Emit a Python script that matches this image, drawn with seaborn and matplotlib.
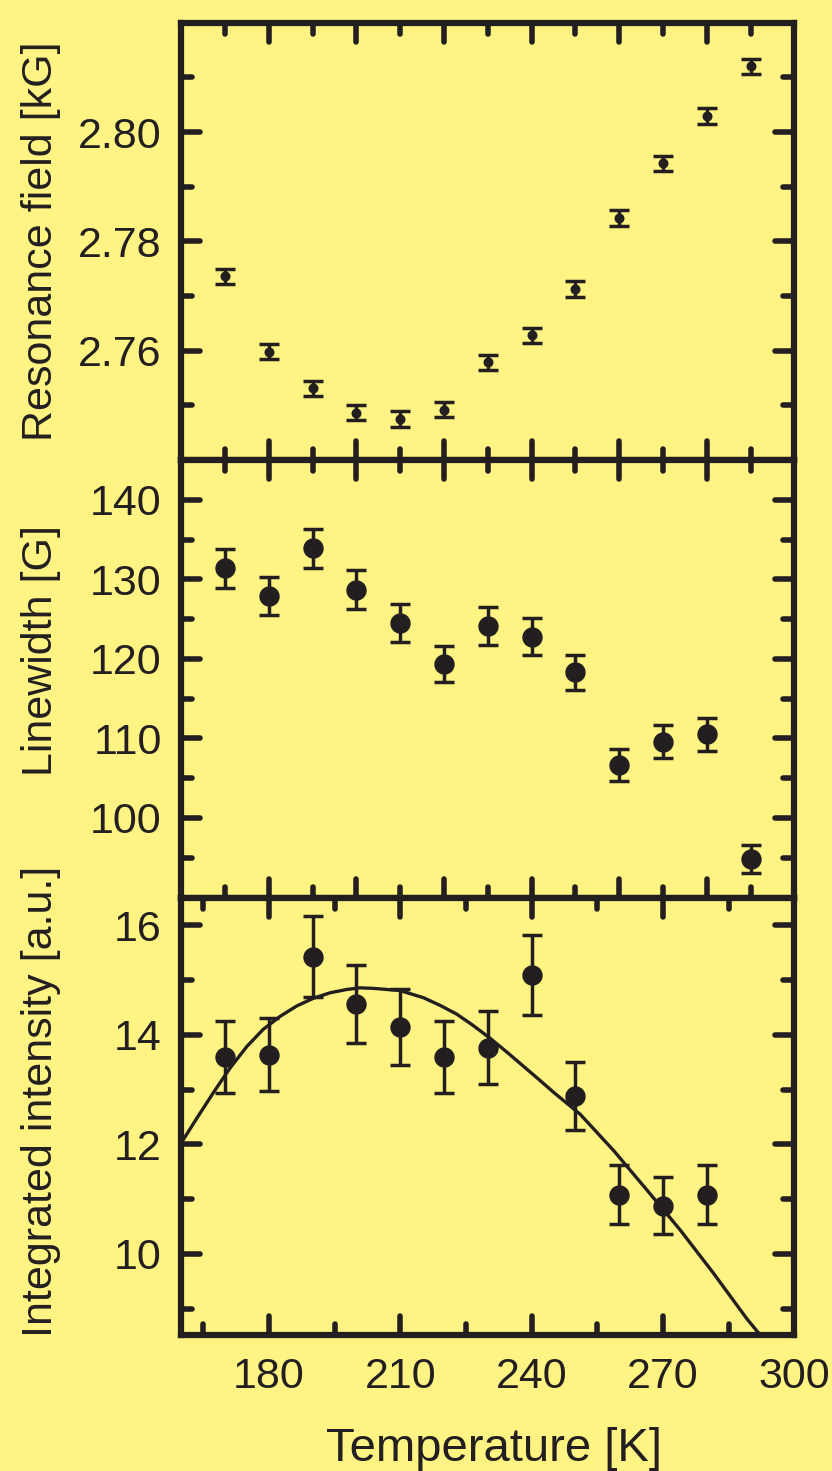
import matplotlib
matplotlib.use('Agg')
import matplotlib.pyplot as plt
import seaborn as sns
import pandas as pd
from matplotlib.markers import MarkerStyle
from matplotlib.ticker import FixedLocator, FormatStrFormatter

# data
temp = [170, 180, 190, 200, 210, 220, 230, 240, 250, 260, 270, 280, 290]
field = [2.7736, 2.7598, 2.7531, 2.7487, 2.7475, 2.7492, 2.7579, 2.7628,
         2.7713, 2.7843, 2.7943, 2.8029, 2.8120]
field_err = [0.0014] * 13

width = [131.4, 127.9, 133.9, 128.7, 124.5, 119.4, 124.1, 122.8, 118.3,
         106.7, 109.6, 110.5, 94.8]
width_err = [2.47, 2.41, 2.47, 2.45, 2.41, 2.26, 2.37, 2.30, 2.24, 2.01,
             2.05, 2.07, 1.74]

temp_int = [170, 180, 190, 200, 210, 220, 230, 240, 250, 260, 270, 280]
intensity = [13.60, 13.64, 15.43, 14.57, 14.14, 13.60, 13.77, 15.09, 12.88,
             11.08, 10.88, 11.08]
intensity_err = [0.66, 0.66, 0.74, 0.71, 0.69, 0.66, 0.67, 0.73, 0.62, 0.54,
                 0.52, 0.54]

# fitted curve, read point by point
fit_temp = [160.5, 163.5, 167.3, 171.1, 175.0, 178.7, 182.6, 186.4, 190.2,
            194.0, 197.8, 200.8, 203.9, 210.0, 215.3, 219.1, 222.9, 226.7,
            230.5, 234.3, 238.1, 241.9, 244.9, 251.1, 258.7, 266.3, 273.9,
            281.5, 289.1, 292.9]
fit_int = [12.09, 12.47, 12.94, 13.39, 13.79, 14.10, 14.34, 14.53, 14.67,
           14.77, 14.83, 14.86, 14.85, 14.81, 14.68, 14.54, 14.38, 14.17,
           13.94, 13.69, 13.43, 13.17, 12.96, 12.55, 11.89, 11.17, 10.44,
           9.65, 8.82, 8.45]

labels = ['Resonance field [kG]', 'Linewidth [G]', 'Integrated intensity [a.u.]']
ylims = [(2.7400, 2.8200), (90.0, 145.0), (8.52, 16.51)]
ymajor = [[2.76, 2.78, 2.80], [100, 110, 120, 130, 140], [10, 12, 14, 16]]
yminor = [[2.75, 2.77, 2.79, 2.81], [95, 105, 115, 125, 135], [9, 11, 13, 15]]
label_y = [0.5, 0.564, 0.533]

bg = '#fff483'
ink = '#231f20'

sns.set_theme(style='ticks')
plt.rcParams['font.family'] = ['Liberation Sans', 'DejaVu Sans']

fig, axes = plt.subplots(3, 1, figsize=(8.32, 14.71), dpi=100)
fig.subplots_adjust(left=0.2178, right=0.9548, top=0.9846, bottom=0.0925, hspace=0)
fig.patch.set_facecolor(bg)

panels = [
    (temp, field, field_err, 52),
    (temp, width, width_err, 215),
    (temp_int, intensity, intensity_err, 215),
]

for i, (ax, (x, y, err, size)) in enumerate(zip(axes, panels)):
    ax.set_facecolor(bg)
    ax.errorbar(x, y, yerr=err, fmt='none', ecolor=ink, elinewidth=2.5,
                capsize=7, capthick=2.5, zorder=3)
    sns.scatterplot(x=x, y=y, ax=ax, s=size, color=ink, linewidth=0, zorder=4)

    ax.set_xlim(160, 300)
    ax.set_ylim(*ylims[i])
    ax.yaxis.set_major_locator(FixedLocator(ymajor[i]))
    ax.yaxis.set_minor_locator(FixedLocator(yminor[i]))
    if i < 2:
        ax.xaxis.set_major_locator(FixedLocator([180, 200, 220, 240, 260, 280]))
        ax.xaxis.set_minor_locator(FixedLocator([170, 190, 210, 230, 250, 270, 290]))
    else:
        ax.xaxis.set_major_locator(FixedLocator([180, 210, 240, 270, 300]))
        ax.xaxis.set_minor_locator(FixedLocator([165, 195, 225, 255, 285]))

    for sp in ax.spines.values():
        sp.set_visible(True)
        sp.set_linewidth(4.5)
        sp.set_color(ink)
    ax.tick_params(which='both', direction='in', top=True, right=True,
                   width=4, color=ink, labelcolor=ink, labelsize=31, pad=14)
    ax.tick_params(which='major', length=14)
    ax.tick_params(which='minor', length=8)
    ax.tick_params(axis='x', labelbottom=(i == 2), pad=16)

    ax.set_ylabel(labels[i], fontsize=31, color=ink)
    ax.yaxis.set_label_coords(-0.196, label_y[i])
    ax.set_xlabel('')

axes[0].yaxis.set_major_formatter(FormatStrFormatter('%.2f'))

fit = pd.DataFrame({'T': fit_temp, 'I': fit_int})
sns.lineplot(data=fit, x='T', y='I', ax=axes[2], color=ink, lw=2.4,
             sort=False, estimator=None, zorder=2)
axes[2].set_ylabel(labels[2], fontsize=31, color=ink)
axes[2].yaxis.set_label_coords(-0.196, label_y[2])
axes[2].set_xlabel('Temperature [K]', fontsize=34, color=ink)
axes[2].xaxis.set_label_coords(0.51, -0.21)

# rounded tick ends, as in the original
fig.canvas.draw()
for ax in axes:
    for axis in (ax.xaxis, ax.yaxis):
        for t in axis.get_major_ticks() + axis.get_minor_ticks():
            for ln in (t.tick1line, t.tick2line):
                ln.set_marker(MarkerStyle(ln.get_marker(), capstyle='round'))

fig.savefig('out.png', dpi=100, facecolor=bg)
